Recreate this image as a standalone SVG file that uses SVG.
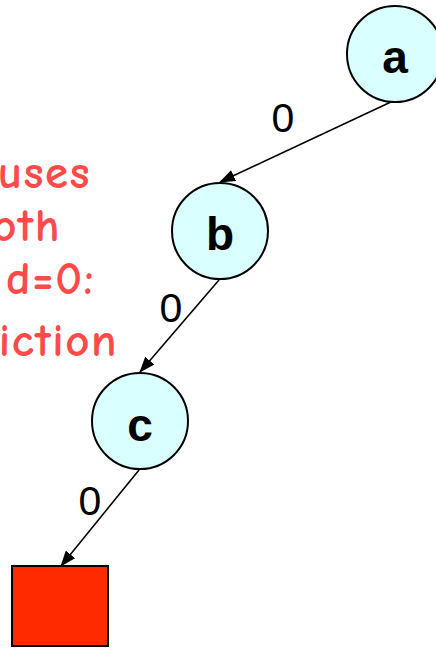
<svg xmlns="http://www.w3.org/2000/svg" width="436" height="648" viewBox="0 0 436 648">
<style>
.node{fill:#d9ffff;stroke:#000;stroke-width:2}
.nl{font-family:"Liberation Sans",Arial,sans-serif;font-weight:bold;font-size:46px;text-anchor:middle}
.el{font-family:"Liberation Sans",Arial,sans-serif;font-size:41px;text-anchor:middle}
.edge{stroke:#000;stroke-width:1.6;fill:none;marker-end:url(#arr)}
.note{font-family:"Comic Sans MS","Comic Neue","DejaVu Sans",sans-serif;font-size:47px;font-weight:bold;letter-spacing:1.5px;fill:#ff4a4a;text-anchor:end}
</style>
<defs>
<marker id="arr" markerWidth="16" markerHeight="12" refX="15" refY="6" orient="auto" markerUnits="userSpaceOnUse">
<path d="M0,0 L16,6 L0,12 Z" fill="#000"/>
</marker>
</defs>
<g id="note">
<text class="note" x="91" y="188">uses</text>
<text class="note" x="61" y="241">oth</text>
<text class="note" x="95" y="294">d=0:</text>
<text class="note" x="118" y="356">iction</text>
</g>
<g id="connectors">
<line class="edge" x1="393" y1="101" x2="220" y2="182"/>
<line class="edge" x1="219" y1="280" x2="140" y2="372"/>
<line class="edge" x1="139" y1="470" x2="61" y2="566"/>
<text class="el" x="283" y="132">0</text>
<text class="el" x="171" y="322">0</text>
<text class="el" x="90" y="515">0</text>
</g>
<g id="a"><circle class="node" cx="395" cy="54" r="48"/><text class="nl" x="395" y="73">a</text></g>
<g id="b"><circle class="node" cx="220" cy="231" r="48"/><text class="nl" x="220" y="250">b</text></g>
<g id="c"><circle class="node" cx="140" cy="421" r="48"/><text class="nl" x="140" y="441">c</text></g>
<g id="leaf"><rect x="12" y="566" width="96" height="80" fill="#ff2a00" stroke="#000" stroke-width="2"/></g>
</svg>
